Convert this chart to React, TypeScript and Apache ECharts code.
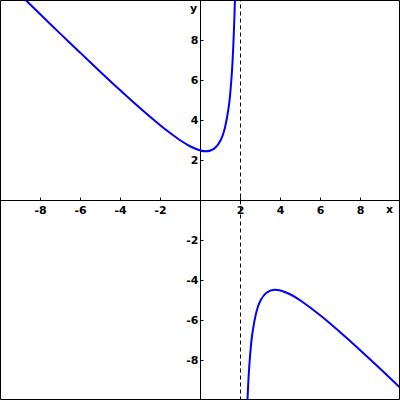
import React, { useEffect, useRef } from "react";
import * as echarts from "echarts";

// Left branch (x < 2) points
const leftX = [-10, -9, -8, -7, -6, -5, -4, -3, -2, -1.5, -1, -0.5, 0, 0.25, 0.5, 0.75, 1, 1.2, 1.4, 1.5, 1.6, 1.7, 1.75];
const leftY = [11.25, 10.27, 9.3, 8.33, 7.38, 6.43, 5.5, 4.6, 3.75, 3.36, 3.0, 2.7, 2.5, 2.46, 2.5, 2.65, 3.0, 3.55, 4.6, 5.5, 6.9, 9.3, 11.25];
// Right branch (x > 2)
const rightX = [2.25, 2.3, 2.4, 2.5, 2.6, 2.8, 3, 3.3, 3.7, 4, 4.5, 5, 6, 7, 8, 9, 10];
const rightY = [-13.25, -11.3, -8.9, -7.5, -6.6, -5.55, -5.0, -4.61, -4.46, -4.5, -4.7, -5.0, -5.75, -6.6, -7.5, -8.43, -9.38];
// Vertical asymptote
const asymptoteX = 2;
const axisMin = -10;
const axisMax = 10;
const tickStep = 2;

const pairs = (xs: number[], ys: number[]) => xs.map((x, i) => [x, ys[i]]);

export default function App() {
  const ref = useRef<HTMLDivElement>(null);
  useEffect(() => {
    if (!ref.current) return;
    const chart = echarts.init(ref.current, undefined, { renderer: "svg" });
    const labelFmt = (v: number) => (v === 0 || Math.abs(v) === 10 ? "" : String(v));
    const font = { fontFamily: "DejaVu Sans", fontWeight: "bold" as const, fontSize: 11, color: "#000" };
    chart.setOption({
      animation: false,
      backgroundColor: "#fff",
      grid: { left: 0.5, right: -0.5, top: 0.5, bottom: -0.5, containLabel: false, outerBoundsMode: "none" },
      xAxis: {
        type: "value",
        position: "bottom",
        offset: -200,
        min: axisMin,
        max: axisMax,
        interval: tickStep,
        axisLine: { onZero: false, lineStyle: { color: "#000", width: 1 } },
        axisTick: { inside: true, length: 3, lineStyle: { color: "#000" } },
        axisLabel: { ...font, margin: 4, formatter: labelFmt },
        splitLine: { show: false },
      },
      yAxis: {
        type: "value",
        position: "left",
        offset: -200,
        min: axisMin,
        max: axisMax,
        interval: tickStep,
        axisLine: { onZero: false, lineStyle: { color: "#000", width: 1 } },
        axisTick: { inside: true, length: 3, lineStyle: { color: "#000" } },
        axisLabel: { ...font, margin: 2, formatter: labelFmt },
        splitLine: { show: false },
      },
      series: [
        {
          type: "line",
          data: pairs(leftX, leftY),
          smooth: 0.3,
          showSymbol: false,
          lineStyle: { color: "#0000ff", width: 2 },
          clip: true,
        },
        {
          type: "line",
          data: pairs(rightX, rightY),
          smooth: 0.3,
          showSymbol: false,
          lineStyle: { color: "#0000ff", width: 2 },
          clip: true,
        },
        {
          type: "line",
          data: [[asymptoteX, axisMin], [asymptoteX, axisMax]],
          showSymbol: false,
          lineStyle: { color: "#000", width: 1, type: [4, 3] },
          z: 1,
        },
      ],
      graphic: [
        { type: "rect", shape: { x: 0.5, y: 0.5, width: 399, height: 399 }, style: { fill: "none", stroke: "#000", lineWidth: 1 }, z: 100 },
        { type: "text", x: 386, y: 204, style: { text: "x", font: "bold 11px 'DejaVu Sans'", fill: "#000" } },
        { type: "text", x: 190, y: 3, style: { text: "y", font: "bold 11px 'DejaVu Sans'", fill: "#000" } },
      ],
    });
    return () => chart.dispose();
  }, []);
  return <div ref={ref} style={{ position: "fixed", left: 0, top: 0, width: 400, height: 400 }} />;
}
